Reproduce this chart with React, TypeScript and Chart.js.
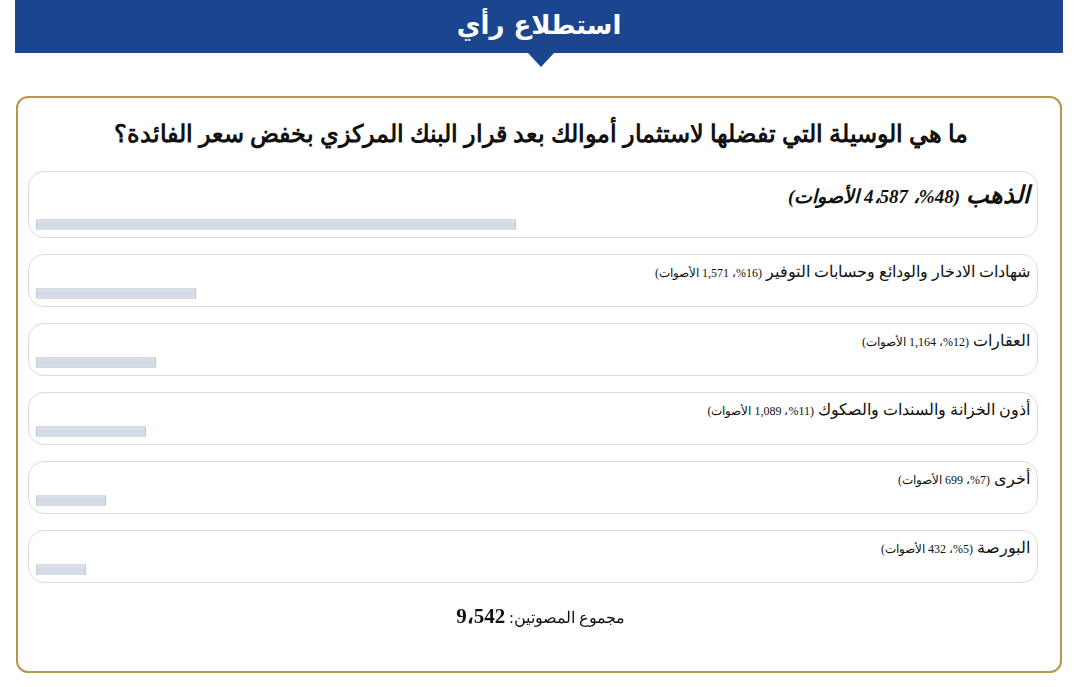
import React, { useEffect, useRef } from "react";
import { Chart, registerables } from "chart.js";

Chart.register(...registerables);

const pageTitle = "استطلاع رأي";
const question = "ما هي الوسيلة التي تفضلها لاستثمار أموالك بعد قرار البنك المركزي بخفض سعر الفائدة؟";
const categories = [
  "الذهب",
  "شهادات الادخار والودائع وحسابات التوفير",
  "العقارات",
  "أذون الخزانة والسندات والصكوك",
  "أخرى",
  "البورصة",
];
const percents = [48, 16, 12, 11, 7, 5];
const votes = ["4،587", "1,571", "1,164", "1,089", "699", "432"];
const totalLabel = "مجموع المصوتين: ";
const totalVotes = "9،542";
const votesWord = "الأصوات";

const rowTops = [171, 254, 323, 392, 461, 530];
const rowHeights = [67, 53, 53, 53, 53, 53];

const FONT = "'Times New Roman', 'Liberation Serif', 'DejaVu Serif', serif";

export default function App() {
  const canvasRef = useRef<HTMLCanvasElement | null>(null);

  useEffect(() => {
    const canvas = canvasRef.current;
    if (!canvas) return;
    const chart = new Chart(canvas, {
      type: "bar",
      data: {
        labels: categories,
        datasets: [
          {
            data: percents,
            backgroundColor: (ctx: any) => {
              const ch = ctx.chart;
              const ys = ch.scales && ch.scales.y;
              if (!ys || ctx.type !== "data" || !ch.chartArea) return "#d3dbe6";
              const c = ys.getPixelForValue(ctx.dataIndex);
              if (!isFinite(c)) return "#d3dbe6";
              const g = ch.ctx.createLinearGradient(0, c - 5, 0, c + 5);
              g.addColorStop(0, "#e0e6ef");
              g.addColorStop(0.5, "#cfd8e4");
              g.addColorStop(1, "#dae1eb");
              return g;
            },
            borderColor: "#bbc2ca",
            borderWidth: 1,
            borderSkipped: false,
            barThickness: 10,
          },
        ],
      },
      options: {
        indexAxis: "y",
        responsive: false,
        animation: false,
        devicePixelRatio: 1,
        layout: { padding: 0 },
        plugins: {
          legend: { display: false },
          tooltip: { enabled: false },
          title: { display: false },
        },
        scales: {
          x: { min: 0, max: 100, display: false },
          y: { display: false },
        },
      },
    });
    return () => chart.destroy();
  }, []);

  return (
    <div
      style={{
        position: "absolute",
        left: 0,
        top: 0,
        width: 1081,
        height: 687,
        background: "#fff",
        fontFamily: FONT,
        overflow: "hidden",
      }}
    >
      {/* header */}
      <div
        style={{
          position: "absolute",
          left: 15,
          top: 0,
          width: 1048,
          height: 53,
          background: "#1c4590",
          color: "#fff",
          textAlign: "center",
          fontFamily: "'DejaVu Sans', 'Noto Sans', sans-serif",
          fontWeight: "bold",
          fontSize: 26,
          lineHeight: "50px",
          direction: "rtl",
        }}
      >
        {pageTitle}
      </div>
      <div
        style={{
          position: "absolute",
          left: 528,
          top: 53,
          width: 0,
          height: 0,
          borderLeft: "13px solid transparent",
          borderRight: "13px solid transparent",
          borderTop: "14px solid #1c4590",
        }}
      />
      {/* card */}
      <div
        style={{
          position: "absolute",
          left: 16,
          top: 96,
          width: 1042,
          height: 573,
          border: "2px solid #b8954c",
          borderRadius: 12,
        }}
      />
      <div
        style={{
          position: "absolute",
          left: 60,
          top: 115,
          width: 961,
          textAlign: "center",
          direction: "rtl",
          fontWeight: "bold",
          fontSize: 24,
          lineHeight: "38px",
          color: "#111",
        }}
      >
        {question}
      </div>
      {categories.map((c, i) => (
        <div
          key={i}
          style={{
            position: "absolute",
            left: 28,
            top: rowTops[i],
            width: 1008,
            height: rowHeights[i] - 2,
            border: "1px solid #dcdcdc",
            borderRadius: 16,
            background: "#fff",
          }}
        />
      ))}
      {categories.map((c, i) => (
        <div
          key={"t" + i}
          style={{
            position: "absolute",
            left: 40,
            top: i === 0 ? 178 : rowTops[i] + 5,
            width: 990,
            direction: "rtl",
            textAlign: "right",
            color: "#111",
            whiteSpace: "nowrap",
            fontWeight: i === 0 ? "bold" : "normal",
            fontStyle: i === 0 ? "italic" : "normal",
            fontSize: i === 0 ? 24 : 16,
            lineHeight: i === 0 ? "34px" : "26px",
          }}
        >
          {c}{" "}
          <span style={{ fontSize: i === 0 ? 19 : 12 }}>
            ({percents[i]}%، {votes[i]} {votesWord})
          </span>
        </div>
      ))}
      <canvas
        ref={canvasRef}
        width={1000}
        height={414}
        style={{
          position: "absolute",
          left: 36,
          top: 190,
          width: 1000,
          height: 414,
          pointerEvents: "none",
        }}
      />
      <div
        style={{
          position: "absolute",
          left: 0,
          top: 600,
          width: 1081,
          textAlign: "center",
          direction: "rtl",
          color: "#111",
          fontSize: 16,
          lineHeight: "32px",
        }}
      >
        {totalLabel}
        <b style={{ fontSize: 21 }}>{totalVotes}</b>
      </div>
    </div>
  );
}
